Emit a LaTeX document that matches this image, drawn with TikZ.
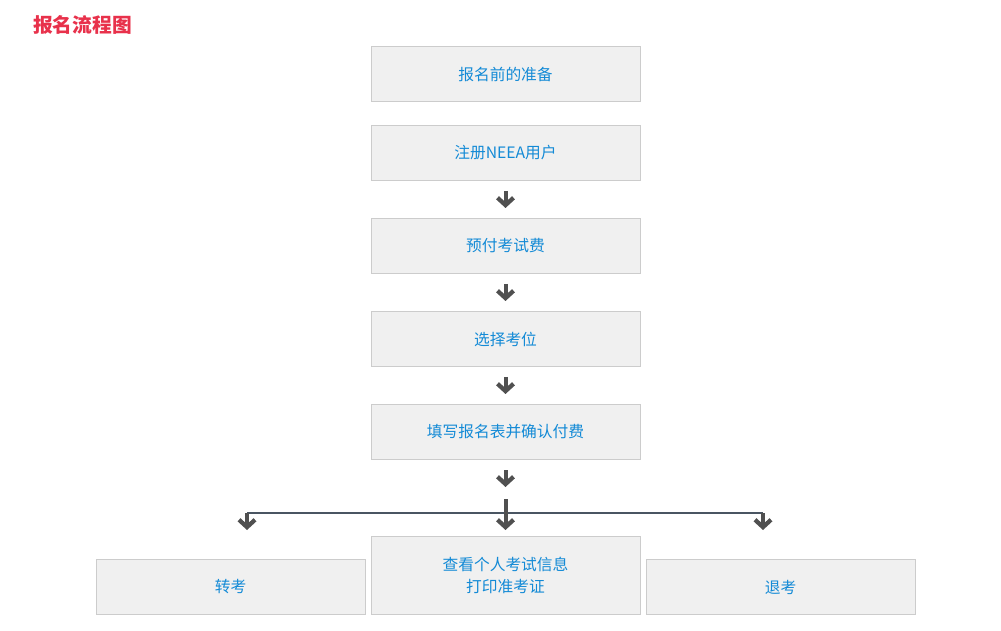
\documentclass[tikz,border=0pt]{standalone}
\usepackage{fontspec}
\newfontfamily\cjk{Noto Sans CJK SC}
\usetikzlibrary{arrows.meta}
\definecolor{boxfill}{HTML}{F0F0F0}
\definecolor{boxline}{HTML}{CCCCCC}
\definecolor{boxtext}{HTML}{138AD6}
\definecolor{titlered}{HTML}{E8314B}
\definecolor{arrowgray}{HTML}{505050}
\definecolor{branchgray}{HTML}{4A5562}
\tikzset{
  flowbox/.style={draw=boxline, fill=boxfill, line width=0.75pt,
                  minimum width=201.75pt, minimum height=41.25pt, inner sep=0pt,
                  font=\cjk\fontsize{11.8}{17}\selectfont, text=boxtext, align=center},
  darkarrow/.style={draw=arrowgray, line width=3pt,
                    -{Straight Barb[length=5.5pt,width=12pt,line width=3.2pt]}},
  branchline/.style={draw=branchgray, line width=2.2pt}
}

\begin{document}
\begin{tikzpicture}[x=0.75pt,y=-0.75pt]
	\useasboundingbox (0,0) rectangle (1001,631);

	% title
	\node[anchor=west, inner sep=0pt, text=titlered,
	      font=\cjk\bfseries\fontsize{14.8}{18}\selectfont] (title) at (33,25) {报名流程图};

	% main column
	\node[flowbox] (prepare)  at (505.5,74.5)  {报名前的准备};
	\node[flowbox] (register) at (505.5,153)   {注册NEEA用户};
	\node[flowbox] (payment)  at (505.5,246)   {预付考试费};
	\node[flowbox] (seat)     at (505.5,339)   {选择考位};
	\node[flowbox] (confirm)  at (505.5,432)   {填写报名表并确认付费};

	% bottom row
	\node[flowbox] (transfer) at (230.5,587) {转考};
	\node[flowbox, minimum height=58.5pt] (info) at (505.5,575.5) {查看个人考试信息\\打印准考证};
	\node[flowbox] (withdraw) at (780.5,587) {退考};

	% arrows between steps
	\draw[darkarrow] ([yshift=-7.5pt]register.south) -- ([yshift=7.5pt]payment.north);
	\draw[darkarrow] ([yshift=-7.5pt]payment.south)  -- ([yshift=7.5pt]seat.north);
	\draw[darkarrow] ([yshift=-7.5pt]seat.south)     -- ([yshift=7.5pt]confirm.north);
	\draw[darkarrow] ([yshift=-7.5pt]confirm.south)  -- ([yshift=-20.25pt]confirm.south);

	% fork
	\coordinate (forkleft)  at (247,513);
	\coordinate (forkmid)   at (505.5,513);
	\coordinate (forkright) at (763,513);
	\coordinate (forktop)   at (505.5,499);
	\coordinate (lefttip)   at (247,530);
	\coordinate (midtip)    at (505.5,530);
	\coordinate (righttip)  at (763,530);
	\draw[branchline] (forkleft) -- (forkright);
	\draw[darkarrow] (forktop) -- (midtip);
	\draw[darkarrow] (forkleft) -- (lefttip);
	\draw[darkarrow] (forkright) -- (righttip);

\end{tikzpicture}
\end{document}
